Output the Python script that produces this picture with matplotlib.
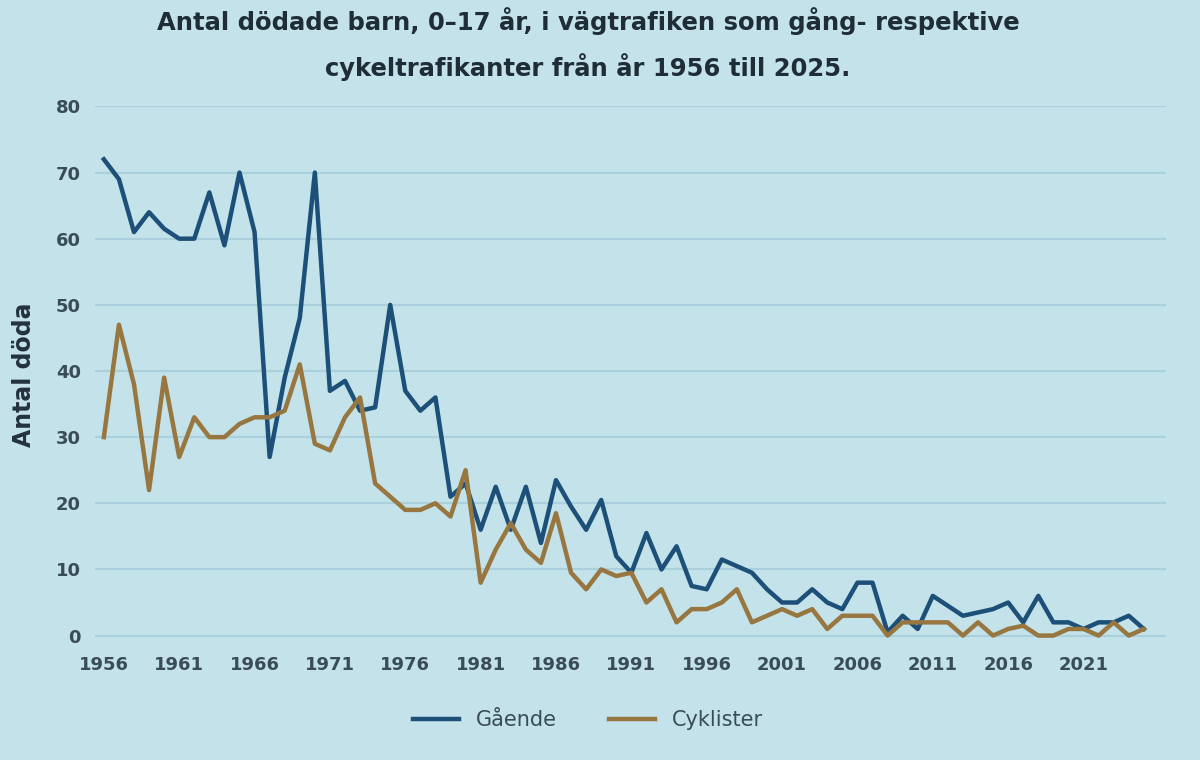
import matplotlib.pyplot as plt

# Data
ar = list(range(1956, 2026))

gaende = [72, 69, 61, 64, 61.5, 60, 60, 67, 59, 70,
          61, 27, 39, 48, 70, 37, 38.5, 34, 34.5, 50,
          37, 34, 36, 21, 23, 16, 22.5, 16, 22.5, 14,
          23.5, 19.5, 16, 20.5, 12, 9.5, 15.5, 10, 13.5, 7.5,
          7, 11.5, 10.5, 9.5, 7, 5, 5, 7, 5, 4,
          8, 8, 0.5, 3, 1, 6, 4.5, 3, 3.5, 4,
          5, 2, 6, 2, 2, 1, 2, 2, 3, 1]

cyklister = [30, 47, 38, 22, 39, 27, 33, 30, 30, 32,
             33, 33, 34, 41, 29, 28, 33, 36, 23, 21,
             19, 19, 20, 18, 25, 8, 13, 17, 13, 11,
             18.5, 9.5, 7, 10, 9, 9.5, 5, 7, 2, 4,
             4, 5, 7, 2, 3, 4, 3, 4, 1, 3,
             3, 3, 0, 2, 2, 2, 2, 0, 2, 0,
             1, 1.5, 0, 0, 1, 1, 0, 2, 0, 1]

x_ticks = list(range(1956, 2022, 5))
y_ticks = list(range(0, 81, 10))

bakgrund = '#c3e2e9'
bla = '#1d5078'
brun = '#977640'

plt.rcParams['font.family'] = ['DejaVu Sans Condensed', 'DejaVu Sans']

fig = plt.figure(figsize=(12, 7.6), dpi=100, facecolor=bakgrund)
ax = fig.add_axes([0.079, 0.155, 0.893, 0.705], facecolor=bakgrund)

ax.plot(ar, gaende, color=bla, linewidth=3.2, label='Gående')
ax.plot(ar, cyklister, color=brun, linewidth=3.2, label='Cyklister')

ax.set_xlim(1955.4, 2026.5)
ax.set_ylim(-1, 80)
ax.set_xticks(x_ticks)
ax.set_yticks(y_ticks)
ax.grid(axis='y', color='#a9d0dc', linewidth=1.5)
ax.set_axisbelow(True)
for s in ax.spines.values():
    s.set_visible(False)
ax.tick_params(length=0, labelsize=13, labelcolor='#3a4c58', pad=10)
for lab in ax.get_xticklabels() + ax.get_yticklabels():
    lab.set_fontweight('bold')

ax.set_ylabel('Antal döda', fontsize=17, fontweight='bold', color='#23323c', labelpad=14)

fig.suptitle('Antal dödade barn, 0–17 år, i vägtrafiken som gång- respektive\n'
             'cykeltrafikanter från år 1956 till 2025.',
             x=0.49, y=0.99, fontsize=17.5, fontweight='bold', color='#1f2d36',
             linespacing=1.75)

fig.legend(loc='lower center', bbox_to_anchor=(0.49, 0.015), ncol=2, frameon=False,
           handlelength=2.2, columnspacing=2.5, labelcolor='#3a4c58',
           prop={'size': 15})

plt.savefig('out.png', dpi=100, facecolor=bakgrund)
